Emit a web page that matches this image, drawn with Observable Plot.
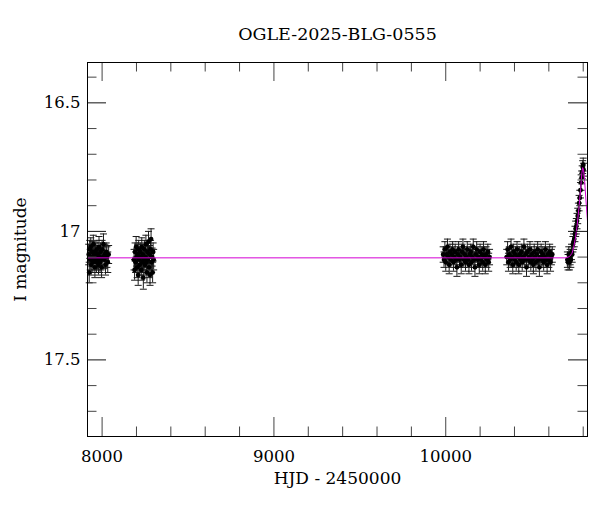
<!DOCTYPE html>
<html><head><meta charset="utf-8">
<script src="https://cdn.jsdelivr.net/npm/d3@7"></script>
<script src="https://cdn.jsdelivr.net/npm/@observablehq/plot@0.6"></script>
<style>
body{margin:0;background:#fff;}
svg, svg text{font-family:"DejaVu Serif",serif !important;}
</style>
</head><body>
<div id="chart"></div>
<script>
const title = "OGLE-2025-BLG-0555";
const xLabel = "HJD - 2450000";
const yLabel = "I magnitude";
const xDomain = [7915, 10825];
const yDomain = [16.343, 17.798];
const xMajor = [8000, 9000, 10000];
const xMinor = [8200, 8400, 8600, 8800, 9200, 9400, 9600, 9800, 10200, 10400, 10600, 10800];
const yMajor = [16.5, 17, 17.5];
const yMinor = [16.4, 16.6, 16.7, 16.8, 16.9, 17.1, 17.2, 17.3, 17.4, 17.6, 17.7];

// [HJD-2450000, I mag, error]
const season2017 = [[7922,17.09,0.04],[7925,17.16,0.04],[7928,17.07,0.035],[7931,17.11,0.04],[7934,17.06,0.035],[7937,17.13,0.04],[7940,17.10,0.035],[7943,17.08,0.04],[7946,17.12,0.04],[7949,17.05,0.035],[7952,17.11,0.04],[7955,17.09,0.035],[7958,17.14,0.04],[7961,17.08,0.035],[7964,17.10,0.04],[7967,17.12,0.04],[7970,17.07,0.035],[7973,17.11,0.04],[7976,17.09,0.035],[7979,17.13,0.04],[7982,17.06,0.04],[7985,17.10,0.035],[7988,17.12,0.04],[7991,17.08,0.035],[7994,17.11,0.04],[7997,17.14,0.04],[8000,17.07,0.035],[8004,17.10,0.04],[8008,17.05,0.04],[8012,17.11,0.035],[8016,17.09,0.04],[8020,17.13,0.04],[8024,17.08,0.035],[8028,17.10,0.04],[8033,17.12,0.04],[8038,17.09,0.035]];
const season2018 = [[8186,17.11,0.04],[8189,17.15,0.04],[8192,17.08,0.035],[8195,17.12,0.04],[8198,17.06,0.04],[8201,17.10,0.035],[8204,17.14,0.04],[8207,17.09,0.04],[8210,17.17,0.04],[8213,17.07,0.035],[8216,17.11,0.04],[8219,17.13,0.04],[8222,17.08,0.035],[8225,17.10,0.04],[8228,17.15,0.04],[8231,17.06,0.035],[8234,17.12,0.04],[8237,17.09,0.04],[8240,17.18,0.045],[8243,17.11,0.04],[8246,17.07,0.035],[8249,17.13,0.04],[8252,17.10,0.04],[8255,17.05,0.035],[8258,17.12,0.04],[8261,17.16,0.04],[8264,17.08,0.035],[8267,17.11,0.04],[8270,17.04,0.04],[8273,17.14,0.04],[8276,17.09,0.035],[8279,17.17,0.04],[8282,17.07,0.035],[8285,17.03,0.04],[8288,17.12,0.04],[8291,17.10,0.035],[8294,17.16,0.04],[8297,17.08,0.035],[8300,17.11,0.04]];
const season2023 = [[9985,17.09,0.03],[9990,17.11,0.03],[9995,17.07,0.03],[10000,17.12,0.035],[10005,17.09,0.03],[10010,17.06,0.03],[10015,17.10,0.03],[10020,17.13,0.035],[10025,17.08,0.03],[10030,17.11,0.03],[10035,17.09,0.03],[10040,17.07,0.03],[10045,17.12,0.035],[10050,17.10,0.03],[10055,17.08,0.03],[10060,17.11,0.03],[10065,17.14,0.035],[10070,17.09,0.03],[10075,17.07,0.03],[10080,17.11,0.03],[10085,17.10,0.03],[10090,17.13,0.035],[10095,17.08,0.03],[10100,17.06,0.03],[10105,17.11,0.03],[10110,17.09,0.03],[10115,17.12,0.035],[10120,17.10,0.03],[10125,17.07,0.03],[10130,17.11,0.03],[10135,17.13,0.035],[10140,17.09,0.03],[10145,17.08,0.03],[10150,17.12,0.035],[10155,17.10,0.03],[10160,17.06,0.03],[10165,17.11,0.03],[10170,17.14,0.035],[10175,17.09,0.03],[10180,17.07,0.03],[10185,17.11,0.03],[10190,17.10,0.03],[10195,17.13,0.035],[10200,17.08,0.03],[10205,17.11,0.03],[10210,17.09,0.03],[10215,17.12,0.035],[10220,17.07,0.03],[10225,17.10,0.03],[10230,17.13,0.035],[10235,17.09,0.03],[10240,17.11,0.03],[10245,17.08,0.03],[10250,17.12,0.035],[10255,17.10,0.03]];
const season2024 = [[10355,17.10,0.03],[10360,17.07,0.03],[10365,17.12,0.035],[10370,17.09,0.03],[10375,17.11,0.03],[10380,17.06,0.03],[10385,17.10,0.03],[10390,17.13,0.035],[10395,17.08,0.03],[10400,17.11,0.03],[10405,17.09,0.03],[10410,17.12,0.035],[10415,17.07,0.03],[10420,17.10,0.03],[10425,17.13,0.035],[10430,17.09,0.03],[10435,17.11,0.03],[10440,17.08,0.03],[10445,17.12,0.035],[10450,17.10,0.03],[10455,17.06,0.03],[10460,17.11,0.03],[10465,17.09,0.03],[10470,17.14,0.035],[10475,17.08,0.03],[10480,17.11,0.03],[10485,17.10,0.03],[10490,17.07,0.03],[10495,17.12,0.035],[10500,17.09,0.03],[10505,17.11,0.03],[10510,17.13,0.035],[10515,17.08,0.03],[10520,17.10,0.03],[10525,17.12,0.035],[10530,17.09,0.03],[10535,17.07,0.03],[10540,17.11,0.03],[10545,17.14,0.035],[10550,17.10,0.03],[10555,17.08,0.03],[10560,17.11,0.03],[10565,17.09,0.03],[10570,17.12,0.035],[10575,17.10,0.03],[10580,17.07,0.03],[10585,17.11,0.03],[10590,17.13,0.035],[10595,17.09,0.03],[10600,17.11,0.03],[10605,17.08,0.03],[10610,17.12,0.035],[10615,17.10,0.03],[10620,17.09,0.03]];
const season2025 = [[10708,17.11,0.03],[10712,17.12,0.03],[10716,17.09,0.03],[10720,17.12,0.03],[10724,17.10,0.03],[10728,17.11,0.03],[10732,17.08,0.03],[10736,17.09,0.03],[10740,17.05,0.03],[10744,17.04,0.03],[10748,17.03,0.03],[10752,17.01,0.03],[10756,16.99,0.03],[10760,16.98,0.03],[10764,16.96,0.03],[10768,16.94,0.03],[10772,16.92,0.03],[10776,16.89,0.03],[10780,16.87,0.03],[10784,16.84,0.03],[10788,16.81,0.03],[10791,16.79,0.025],[10794,16.77,0.025],[10797,16.75,0.025],[10800,16.74,0.025],[10802,16.76,0.025]];

// model light curve: [HJD-2450000, I mag]
const model = [[7915,17.103],[10700,17.103],[10720,17.098],[10735,17.085],[10745,17.06],[10755,17.025],[10765,16.975],[10775,16.91],[10785,16.835],[10792,16.775],[10797,16.752],[10802,16.762],[10808,16.80],[10815,16.87],[10825,16.96]];

const points = [...season2017, ...season2018, ...season2023, ...season2024, ...season2025]
  .map(([t, m, e]) => ({t, m, e}));
const modelData = model.map(([t, m]) => ({t, m}));

const W = 600, H = 512, ML = 87, MR = 13, MT = 62, MB = 76;
const PW = W - ML - MR, PH = H - MT - MB;
const majorLen = 19, minorLen = 9.5;
const capSymbol = {draw(ctx, size) { const r = Math.sqrt(size / Math.PI); ctx.moveTo(-r, 0); ctx.lineTo(r, 0); }};
const tickColor = "#444";
const serif = "DejaVu Serif, serif";

const chart = Plot.plot({
  width: W, height: H,
  marginLeft: ML, marginRight: MR, marginTop: MT, marginBottom: MB,
  style: {fontFamily: serif, background: "white"},
  x: {domain: xDomain},
  y: {domain: yDomain, reverse: true},
  marks: [
    // error bars
    Plot.ruleX(points, {x: "t", y1: d => d.m - d.e, y2: d => d.m + d.e, stroke: "#1a1a1a", strokeWidth: 1}),
    Plot.dot(points, {x: "t", y: d => d.m - d.e, symbol: capSymbol, r: 3.5, stroke: "#1a1a1a", strokeWidth: 1, fill: "none"}),
    Plot.dot(points, {x: "t", y: d => d.m + d.e, symbol: capSymbol, r: 3.5, stroke: "#1a1a1a", strokeWidth: 1, fill: "none"}),
    Plot.dot(points, {x: "t", y: "m", r: 2.4, fill: "black", stroke: "none"}),
    Plot.line(modelData, {x: "t", y: "m", stroke: "#d400d4", strokeWidth: 1}),
    // mirrored inward ticks
    Plot.tickX(xMajor, {x: d => d, insetTop: PH - majorLen, stroke: tickColor}),
    Plot.tickX(xMajor, {x: d => d, insetBottom: PH - majorLen, stroke: tickColor}),
    Plot.tickX(xMinor, {x: d => d, insetTop: PH - minorLen, stroke: tickColor}),
    Plot.tickX(xMinor, {x: d => d, insetBottom: PH - minorLen, stroke: tickColor}),
    Plot.tickY(yMajor, {y: d => d, insetRight: PW - majorLen, stroke: "#111"}),
    Plot.tickY(yMajor, {y: d => d, insetLeft: PW - majorLen, stroke: "#111"}),
    Plot.tickY(yMinor, {y: d => d, insetRight: PW - minorLen, stroke: tickColor}),
    Plot.tickY(yMinor, {y: d => d, insetLeft: PW - minorLen, stroke: tickColor}),
    Plot.axisX(xMajor, {tickSize: 0, tickPadding: 14, tickFormat: d => String(d), fontSize: 16.5, fontFamily: serif, label: null}),
    Plot.axisY(yMajor, {tickSize: 0, tickPadding: 7, tickFormat: d => String(d), fontSize: 16.5, fontFamily: serif, label: null}),
    Plot.frame({stroke: "black", strokeWidth: 1}),
    Plot.text([title], {text: d => d, frameAnchor: "top", lineAnchor: "bottom", dy: -23, fontSize: 17.5, fontFamily: serif, fill: "black"}),
    Plot.text([xLabel], {text: d => d, frameAnchor: "bottom", lineAnchor: "bottom", dy: 47, fontSize: 17, fontFamily: serif, fill: "black"}),
    Plot.text([yLabel], {text: d => d, frameAnchor: "left", textAnchor: "middle", rotate: -90, lineAnchor: "bottom", dx: -62, dy: 0, fontSize: 17, fontFamily: serif, fill: "black"})
  ]
});
document.getElementById("chart").appendChild(chart);
</script>
</body></html>
